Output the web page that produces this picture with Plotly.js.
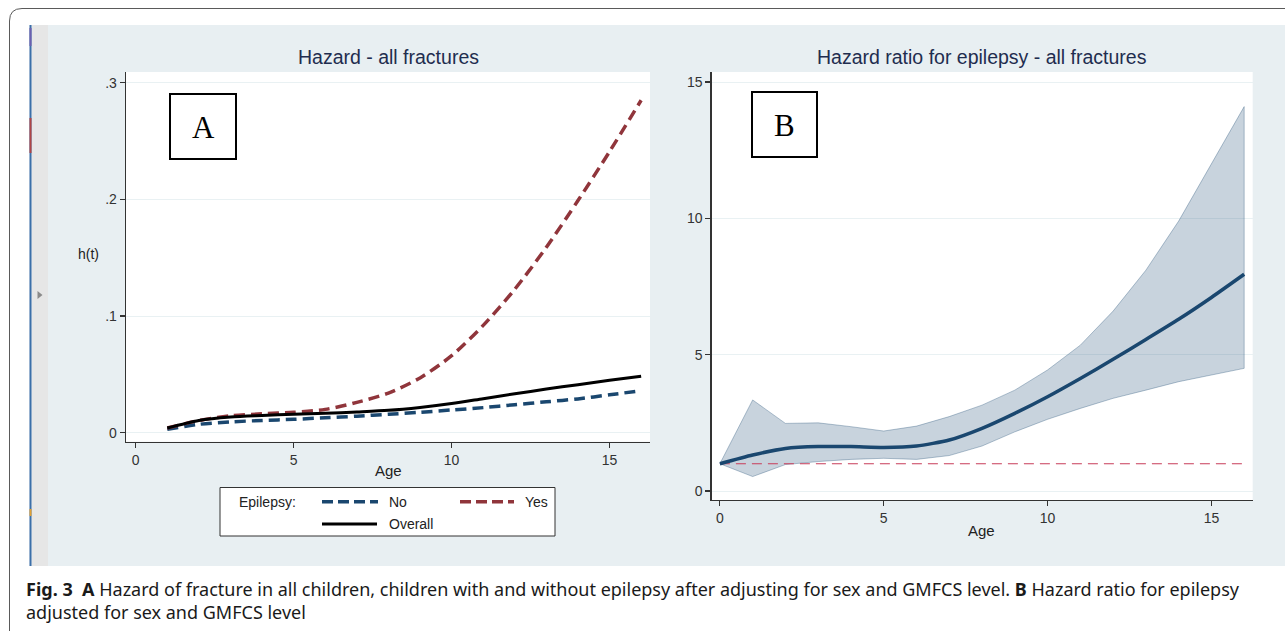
<!DOCTYPE html>
<html>
<head>
<meta charset="utf-8">
<script src="https://cdn.plot.ly/plotly-3.0.1.min.js"></script>
<style>
  html, body { margin: 0; padding: 0; background: #ffffff; }
  #chart { width: 1285px; height: 631px; }
</style>
</head>
<body>
<div id="chart"></div>
<script>
// ---------------- DATA ----------------
// Panel A: hazard h(t) by age
const ageA = [1, 2, 3, 4, 5, 6, 7, 8, 9, 10, 11, 12, 13, 14, 15, 16];
const hazNo = [0.003, 0.0072, 0.0093, 0.0105, 0.0115, 0.0128, 0.0142, 0.0158, 0.0175, 0.0195, 0.0215, 0.024, 0.0265, 0.029, 0.0325, 0.036];
const hazYes = [0.004, 0.0105, 0.0145, 0.0162, 0.0175, 0.020, 0.026, 0.034, 0.047, 0.066, 0.092, 0.123, 0.159, 0.199, 0.241, 0.285];
const hazOverall = [0.004, 0.0105, 0.0135, 0.0148, 0.0158, 0.0166, 0.0178, 0.0192, 0.0217, 0.025, 0.0292, 0.0334, 0.0374, 0.0412, 0.045, 0.0485];
const seriesNames = ["No", "Yes", "Overall"];
const legendTitle = "Epilepsy:";

// Panel B: hazard ratio for epilepsy with confidence band
const ageB = [0, 1, 2, 3, 4, 5, 6, 7, 8, 9, 10, 11, 12, 13, 14, 15, 16];
const hrMean = [1.0, 1.32, 1.56, 1.63, 1.63, 1.60, 1.65, 1.87, 2.30, 2.85, 3.46, 4.13, 4.83, 5.56, 6.30, 7.10, 7.95];
const hrUpper = [1.0, 3.34, 2.48, 2.50, 2.36, 2.20, 2.38, 2.73, 3.15, 3.70, 4.44, 5.35, 6.60, 8.10, 9.90, 12.0, 14.1];
const hrLower = [1.0, 0.53, 0.97, 1.08, 1.16, 1.20, 1.16, 1.30, 1.65, 2.17, 2.63, 3.03, 3.40, 3.70, 4.01, 4.25, 4.50];
const hrNull = 1;

// Tick labels
const xTicks = [0, 5, 10, 15];
const xTickText = ["0", "5", "10", "15"];
const yTicksA = [0, 0.1, 0.2, 0.3];
const yTickTextA = ["0", ".1", ".2", ".3"];
const yTicksB = [0, 5, 10, 15];
const yTickTextB = ["0", "5", "10", "15"];

// Texts
const titleA = "Hazard - all fractures";
const titleB = "Hazard ratio for epilepsy - all fractures";
const xTitle = "Age";
const yTitleA = "h(t)";
const caption1 = "<b>Fig. 3</b>  <b>A</b> Hazard of fracture in all children, children with and without epilepsy after adjusting for sex and GMFCS level. <b>B</b> Hazard ratio for epilepsy";
const caption2 = "adjusted for sex and GMFCS level";

// ---------------- LAYOUT HELPERS ----------------
const W = 1285, H = 631;
const fx = p => p / W;
const fy = p => 1 - p / H;

const NAVY = "#1a476f";
const MAROON = "#90353b";
const BG = "#e8eff2";
const AX = "#333333";
const FONT = "Liberation Sans, Arial, sans-serif";

// ---------------- TRACES ----------------
const traces = [
  { x: ageA, y: hazNo, name: seriesNames[0], xaxis: "x", yaxis: "y", mode: "lines",
    line: { color: NAVY, width: 3.5, dash: "11px,6px", shape: "spline", smoothing: 0.8 } },
  { x: ageA, y: hazYes, name: seriesNames[1], xaxis: "x", yaxis: "y", mode: "lines",
    line: { color: MAROON, width: 3.5, dash: "11px,6px", shape: "spline", smoothing: 0.8 } },
  { x: ageA, y: hazOverall, name: seriesNames[2], xaxis: "x", yaxis: "y", mode: "lines",
    line: { color: "#000000", width: 3, shape: "spline", smoothing: 0.8 } },
  { x: ageB.concat(ageB.slice().reverse()), y: hrUpper.concat(hrLower.slice().reverse()),
    name: "95% CI", xaxis: "x2", yaxis: "y2", mode: "lines", fill: "toself",
    fillcolor: "rgba(26,71,111,0.24)", line: { color: "rgba(26,71,111,0.32)", width: 1 } },
  { x: [ageB[0], ageB[ageB.length - 1]], y: [hrNull, hrNull], name: "HR = 1",
    xaxis: "x2", yaxis: "y2", mode: "lines",
    line: { color: "#c83c5a", width: 1.2, dash: "10px,6px" } },
  { x: ageB, y: hrMean, name: "Hazard ratio", xaxis: "x2", yaxis: "y2", mode: "lines",
    line: { color: NAVY, width: 3.5, shape: "spline", smoothing: 0.6 } }
];

// ---------------- AXES ----------------
function axisBase() {
  return {
    showline: true, linecolor: AX, linewidth: 1.3, mirror: false,
    ticks: "outside", ticklen: 5, tickwidth: 1.2, tickcolor: AX,
    tickfont: { family: FONT, size: 14, color: AX },
    zeroline: false, fixedrange: true
  };
}
const xaxis = Object.assign(axisBase(), {
  domain: [fx(126), fx(650)], range: [-0.307, 16.28], anchor: "y",
  tickvals: xTicks, ticktext: xTickText, showgrid: false
});
const yaxis = Object.assign(axisBase(), {
  domain: [fy(441.7), fy(72)], range: [-0.0077, 0.3092], anchor: "x",
  tickvals: yTicksA, ticktext: yTickTextA, showgrid: true, gridcolor: "#e9f1f3", gridwidth: 1
});
const xaxis2 = Object.assign(axisBase(), {
  domain: [fx(711.7), fx(1252.7)], range: [-0.25, 16.26], anchor: "y2",
  tickvals: xTicks, ticktext: xTickText, showgrid: false
});
const yaxis2 = Object.assign(axisBase(), {
  domain: [fy(500), fy(72)], range: [-0.33, 15.37], anchor: "x2",
  tickvals: yTicksB, ticktext: yTickTextB, showgrid: true, gridcolor: "#e9f1f3", gridwidth: 1
});

// ---------------- SHAPES ----------------
function rectPx(x0, y0, x1, y1, fill, line, layer) {
  return { type: "rect", xref: "paper", yref: "paper",
    x0: fx(x0), x1: fx(x1), y0: fy(y1), y1: fy(y0),
    fillcolor: fill, line: line || { width: 0 }, layer: layer || "below" };
}
function linePx(x0, y0, x1, y1, color, width, dash) {
  return { type: "line", xref: "paper", yref: "paper",
    x0: fx(x0), x1: fx(x1), y0: fy(y0), y1: fy(y1),
    line: { color: color, width: width, dash: dash || "solid" }, layer: "above" };
}
const shapes = [
  rectPx(0, 0, W, 25, "#ffffff"),
  rectPx(0, 0, 29.5, H, "#ffffff"),
  rectPx(0, 566, W, H, "#ffffff"),
  rectPx(31.5, 25, 48, 566, "#e6e6e6"),
  rectPx(29.5, 25, 31.5, 566, "#3c6fa8"),
  rectPx(29.5, 28, 31.5, 46, "#6c5fae"),
  rectPx(29.5, 118, 31.5, 153, "#b04545"),
  rectPx(29.5, 509, 31.5, 516, "#e0a034"),
  { type: "path", xref: "paper", yref: "paper", layer: "below",
    path: `M ${fx(37.5)},${fy(291)} L ${fx(42.5)},${fy(295)} L ${fx(37.5)},${fy(299)} Z`,
    fillcolor: "#8a8a8a", line: { width: 0 } },
  { type: "path", xref: "paper", yref: "paper", layer: "below",
    path: `M ${fx(9.5)},${fy(650)} L ${fx(9.5)},${fy(21)} Q ${fx(9.5)},${fy(8.5)} ${fx(22)},${fy(8.5)} L ${fx(1310)},${fy(8.5)}`,
    line: { color: "#5a5a5a", width: 1 } },
  // panel letter boxes
  rectPx(170, 94, 236, 159, "#ffffff", { color: "#000000", width: 2 }, "above"),
  rectPx(752, 92, 817, 157, "#ffffff", { color: "#000000", width: 2 }, "above"),
  // legend box + samples
  rectPx(220, 487.5, 555, 536, "#ffffff", { color: AX, width: 1 }, "above"),
  linePx(322, 501.7, 378, 501.7, NAVY, 3.5, "11px,5px"),
  linePx(460, 501.7, 514, 501.7, MAROON, 3.5, "11px,5px"),
  linePx(322, 524, 377, 524, "#000000", 3)
];

// ---------------- ANNOTATIONS ----------------
function txt(text, x, y, size, opts) {
  return Object.assign({
    text: text, xref: "paper", yref: "paper", x: fx(x), y: fy(y),
    xanchor: "center", yanchor: "middle", showarrow: false,
    font: { family: FONT, size: size, color: "#222222" }
  }, opts || {});
}
const annotations = [
  txt(titleA, 388, 57, 19.5, { font: { family: FONT, size: 19.5, color: "#1f2d4f" } }),
  txt(titleB, 982, 57, 19.5, { font: { family: FONT, size: 19.5, color: "#1f2d4f" } }),
  txt(yTitleA, 88, 254, 14),
  txt(xTitle, 388, 470, 15),
  txt(xTitle, 982, 530, 15),
  txt("A", 203, 127, 31, { font: { family: "Liberation Serif, Times New Roman, serif", size: 31, color: "#000" } }),
  txt("B", 784.5, 125, 31, { font: { family: "Liberation Serif, Times New Roman, serif", size: 31, color: "#000" } }),
  txt(legendTitle, 237, 501.7, 14, { xanchor: "left" }),
  txt(seriesNames[0], 387, 501.7, 14, { xanchor: "left" }),
  txt(seriesNames[1], 523, 501.7, 14, { xanchor: "left" }),
  txt(seriesNames[2], 387, 524, 14, { xanchor: "left" }),
  txt(caption1, 24, 589, 18, { xanchor: "left", font: { family: "Noto Sans, sans-serif", size: 18, color: "#1a1a1a" } }),
  txt(caption2, 24, 612, 18, { xanchor: "left", font: { family: "Noto Sans, sans-serif", size: 18, color: "#1a1a1a" } })
];

const layout = {
  width: W, height: H,
  margin: { l: 0, r: 0, t: 0, b: 0, pad: 0 },
  paper_bgcolor: BG, plot_bgcolor: "#ffffff",
  showlegend: false,
  font: { family: FONT, color: AX },
  xaxis: xaxis, yaxis: yaxis, xaxis2: xaxis2, yaxis2: yaxis2,
  shapes: shapes, annotations: annotations
};

Plotly.newPlot("chart", traces, layout, { staticPlot: true, displayModeBar: false });
</script>
</body>
</html>
